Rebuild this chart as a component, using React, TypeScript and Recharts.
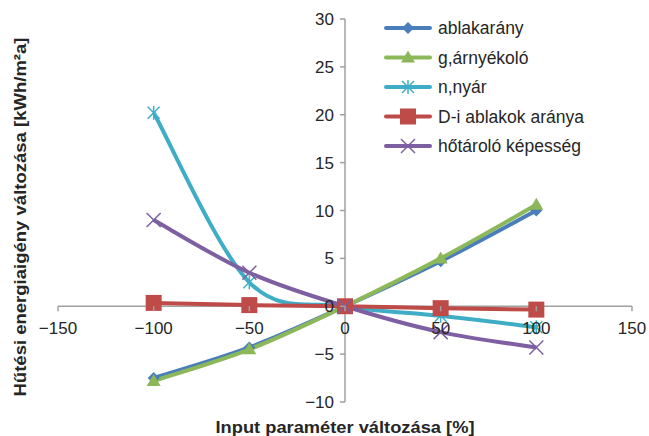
import React from "react";
import { LineChart, Line, XAxis, YAxis, ReferenceLine } from "recharts";

const xValues = [-100, -50, 0, 50, 100];
const ablakarany = [-7.5, -4.3, 0, 4.7, 10.0];
const arnyekolo = [-7.8, -4.5, 0, 5.0, 10.6];
const nyar = [20.2, 2.5, 0, -1.0, -2.2];
const dAblakok = [0.35, 0.12, 0, -0.2, -0.35];
const hotarolo = [9.0, 3.5, 0, -2.7, -4.3];

const xTicks = [-150, -100, -50, 0, 50, 100, 150];
const yTicks = [-10, -5, 0, 5, 10, 15, 20, 25, 30];

type Shape = "diamond" | "triangle" | "asterisk" | "square" | "cross";
type Series = { key: string; name: string; color: string; shape: Shape; values: number[] };

const series: Series[] = [
  { key: "a", name: "ablakarány", color: "#4a7ebb", shape: "diamond", values: ablakarany },
  { key: "g", name: "g,árnyékoló", color: "#8cb85a", shape: "triangle", values: arnyekolo },
  { key: "n", name: "n,nyár", color: "#3fadc6", shape: "asterisk", values: nyar },
  { key: "d", name: "D-i ablakok aránya", color: "#be4b48", shape: "square", values: dAblakok },
  { key: "h", name: "hőtároló képesség", color: "#7d5fa2", shape: "cross", values: hotarolo },
];

const data = xValues.map((x, i) => {
  const row: Record<string, number> = { x };
  series.forEach((s) => (row[s.key] = s.values[i]));
  return row;
});

// chart layout: plot area 58..632 x 19..402
const W = 649;
const H = 436;
const X_AXIS_H = 30;
const Y_AXIS_W = 30;
const M = { top: 19, right: 17, left: 58 - Y_AXIS_W, bottom: 34 - X_AXIS_H };
const yZero = 19 + (30 / 40) * (H - 19 - 34);
const xZero = 58 + (W - 58 - 17) / 2;
const FONT = "'Liberation Sans', Arial, sans-serif";
const AXIS = "#a0a0a0";
const TEXT = "#262626";

// excel-like smoothing (bezier, control points at 1/6 of neighbour distance)
function excelCurve(context: any) {
  let pts: number[][] = [];
  return {
    areaStart() {},
    areaEnd() {},
    lineStart() {
      pts = [];
    },
    lineEnd() {
      const n = pts.length;
      if (!n) return;
      context.moveTo(pts[0][0], pts[0][1]);
      for (let i = 0; i < n - 1; i++) {
        const p0 = pts[Math.max(i - 1, 0)];
        const p1 = pts[i];
        const p2 = pts[i + 1];
        const p3 = pts[Math.min(i + 2, n - 1)];
        context.bezierCurveTo(
          p1[0] + (p2[0] - p0[0]) / 6,
          p1[1] + (p2[1] - p0[1]) / 6,
          p2[0] - (p3[0] - p1[0]) / 6,
          p2[1] - (p3[1] - p1[1]) / 6,
          p2[0],
          p2[1]
        );
      }
    },
    point(x: number, y: number) {
      pts.push([+x, +y]);
    },
  };
}

function Marker({ shape, color, cx, cy }: { shape: Shape; color: string; cx: number; cy: number }) {
  if (shape === "diamond")
    return <polygon points={`${cx},${cy - 6} ${cx + 6},${cy} ${cx},${cy + 6} ${cx - 6},${cy}`} fill={color} />;
  if (shape === "triangle")
    return <polygon points={`${cx},${cy - 7} ${cx + 7},${cy + 5} ${cx - 7},${cy + 5}`} fill={color} />;
  if (shape === "square")
    return <rect x={cx - 8} y={cy - 8} width={16} height={16} fill={color} />;
  if (shape === "asterisk")
    return (
      <g stroke={color} strokeWidth={1.5}>
        <line x1={cx - 6} y1={cy - 6} x2={cx + 6} y2={cy + 6} />
        <line x1={cx - 6} y1={cy + 6} x2={cx + 6} y2={cy - 6} />
        <line x1={cx} y1={cy - 7} x2={cx} y2={cy + 7} />
      </g>
    );
  return (
    <g stroke={color} strokeWidth={1.5}>
      <line x1={cx - 7} y1={cy - 7} x2={cx + 7} y2={cy + 7} />
      <line x1={cx - 7} y1={cy + 7} x2={cx + 7} y2={cy - 7} />
    </g>
  );
}

const fmt = (v: number) => (v < 0 ? "\u2212" + Math.abs(v) : String(v));

function XTick(props: any) {
  const { x, payload } = props;
  return (
    <g>
      <line x1={x} y1={yZero} x2={x} y2={yZero + 5} stroke={AXIS} strokeWidth={1.5} />
      <text x={x} y={yZero + 28} textAnchor="middle" fontSize={17} fill={TEXT} fontFamily={FONT}>
        {fmt(payload.value)}
      </text>
    </g>
  );
}

function YTick(props: any) {
  const { y, payload } = props;
  return (
    <g>
      <line x1={xZero - 5} y1={y} x2={xZero} y2={y} stroke={AXIS} strokeWidth={1.5} />
      <text x={xZero - 11} y={y + 6} textAnchor="end" fontSize={17} fill={TEXT} fontFamily={FONT}>
        {fmt(payload.value)}
      </text>
    </g>
  );
}

export default function App() {
  return (
    <div style={{ position: "absolute", left: 0, top: 0, width: W, height: H, background: "#fff" }}>
      <LineChart width={W} height={H} data={data} margin={M}>
        <XAxis
          type="number"
          dataKey="x"
          domain={[-150, 150]}
          ticks={xTicks}
          interval={0}
          height={X_AXIS_H}
          axisLine={false}
          tickLine={false}
          tick={XTick}
        />
        <YAxis
          type="number"
          domain={[-10, 30]}
          ticks={yTicks}
          interval={0}
          width={Y_AXIS_W}
          axisLine={false}
          tickLine={false}
          tick={YTick}
        />
        <ReferenceLine y={0} stroke={AXIS} strokeWidth={1.5} />
        <ReferenceLine x={0} stroke={AXIS} strokeWidth={1.5} />
        {series.map((s) => (
          <Line
            key={s.key}
            dataKey={s.key}
            name={s.name}
            type={excelCurve as any}
            stroke={s.color}
            strokeWidth={4}
            isAnimationActive={false}
            dot={(p: any) => (
              <g key={`${s.key}-${p.index}`}>
                <Marker shape={s.shape} color={s.color} cx={p.cx} cy={p.cy} />
              </g>
            )}
            activeDot={false}
          />
        ))}
      </LineChart>

      {/* axis titles and legend */}
      <svg width={W} height={H} style={{ position: "absolute", left: 0, top: 0, pointerEvents: "none" }}>
        <text
          x={0}
          y={0}
          transform={`translate(26, 217) rotate(-90)`}
          textAnchor="middle"
          fontSize={17}
          fontWeight="bold"
          fill={TEXT}
          fontFamily={FONT}
          textLength={359}
          lengthAdjust="spacingAndGlyphs"
        >
          Hűtési energiaigény változása [kWh/m²a]
        </text>
        <text
          x={345}
          y={433}
          textAnchor="middle"
          fontSize={17}
          fontWeight="bold"
          fill={TEXT}
          fontFamily={FONT}
          textLength={259}
          lengthAdjust="spacingAndGlyphs"
        >
          Input paraméter változása [%]
        </text>
        {series.map((s, i) => {
          const cy = 28 + i * 29.5;
          return (
            <g key={s.key}>
              <line x1={386} y1={cy} x2={430} y2={cy} stroke={s.color} strokeWidth={4} strokeLinecap="round" />
              <Marker shape={s.shape} color={s.color} cx={408} cy={cy} />
              <text x={438} y={cy + 6} fontSize={17.5} fill={TEXT} fontFamily={FONT}>
                {s.name}
              </text>
            </g>
          );
        })}
      </svg>
    </div>
  );
}
